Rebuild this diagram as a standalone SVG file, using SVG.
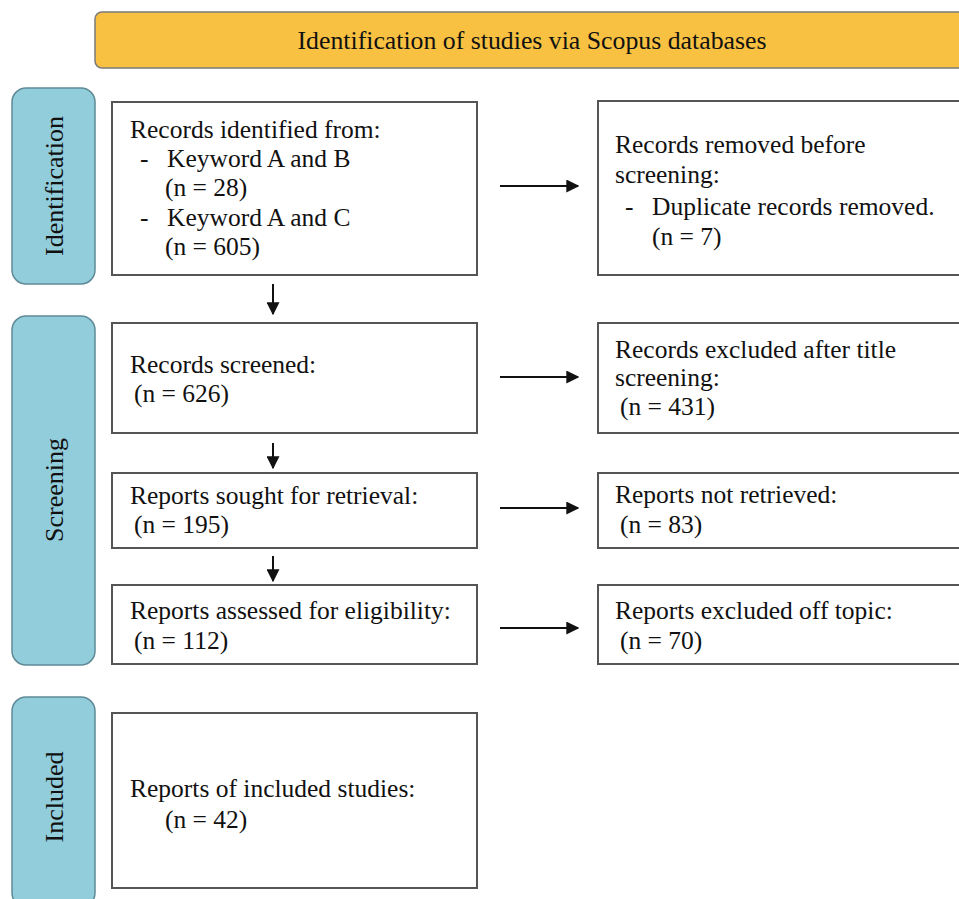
<svg xmlns="http://www.w3.org/2000/svg" width="959" height="899" viewBox="0 0 959 899">
<style>
.box{fill:#fff;stroke:#555;stroke-width:2}
.side{fill:#92CDDC;stroke:#5F8A96;stroke-width:1.5}
.hdr{fill:#F8C142;stroke:#7a7a7a;stroke-width:1.5}
text{font-family:"Liberation Serif","Times New Roman",serif;fill:#111;font-size:25.5px}
.st{font-size:26px;text-anchor:middle}
.ht{font-size:26px;text-anchor:middle}
.conn line{stroke:#111;stroke-width:2}
</style>
<defs>
<marker id="ah" viewBox="0 0 10 10" refX="9" refY="5" markerWidth="6.5" markerHeight="6.5" markerUnits="strokeWidth" orient="auto">
<path d="M0,0 L10,5 L0,10 z" fill="#111"/>
</marker>
</defs>
<rect width="959" height="899" fill="#fff"/>
<g id="header">
<rect class="hdr" x="95" y="12" width="880" height="56" rx="7"/>
<text class="ht" x="532" y="49" textLength="469" lengthAdjust="spacingAndGlyphs">Identification of studies via Scopus databases</text>
</g>
<g id="side-identification">
<rect class="side" x="12" y="88" width="83" height="196" rx="14"/>
<text class="st" transform="translate(63,186) rotate(-90)">Identification</text>
</g>
<g id="side-screening">
<rect class="side" x="12" y="316" width="83" height="349" rx="14"/>
<text class="st" transform="translate(63,490) rotate(-90)">Screening</text>
</g>
<g id="side-included">
<rect class="side" x="12" y="697" width="83" height="210" rx="14"/>
<text class="st" transform="translate(63,797) rotate(-90)">Included</text>
</g>
<g id="records-identified">
<rect class="box" x="112" y="102" width="365" height="173"/>
<text x="130" y="138">Records identified from:</text>
<text x="140" y="167">-</text><text x="167" y="167">Keyword A and B</text>
<text x="165" y="196">(n = 28)</text>
<text x="140" y="226">-</text><text x="167" y="226">Keyword A and C</text>
<text x="165" y="255">(n = 605)</text>
</g>
<g id="records-removed">
<rect class="box" x="598" y="101" width="370" height="174"/>
<text x="615" y="153">Records removed before</text>
<text x="615" y="183">screening:</text>
<text x="625" y="215">-</text><text x="652" y="215">Duplicate records removed.</text>
<text x="652" y="245">(n = 7)</text>
</g>
<g id="records-screened">
<rect class="box" x="112" y="323" width="365" height="110"/>
<text x="130" y="373">Records screened:</text>
<text x="134" y="402">(n = 626)</text>
</g>
<g id="records-excluded">
<rect class="box" x="598" y="323" width="370" height="110"/>
<text x="615" y="358">Records excluded after title</text>
<text x="615" y="386">screening:</text>
<text x="620" y="415">(n = 431)</text>
</g>
<g id="reports-sought">
<rect class="box" x="112" y="473" width="365" height="75"/>
<text x="130" y="504">Reports sought for retrieval:</text>
<text x="134" y="533">(n = 195)</text>
</g>
<g id="reports-not-retrieved">
<rect class="box" x="598" y="473" width="370" height="75"/>
<text x="615" y="503">Reports not retrieved:</text>
<text x="620" y="533">(n = 83)</text>
</g>
<g id="reports-assessed">
<rect class="box" x="112" y="585" width="365" height="79"/>
<text x="130" y="619">Reports assessed for eligibility:</text>
<text x="134" y="649">(n = 112)</text>
</g>
<g id="reports-excluded">
<rect class="box" x="598" y="585" width="370" height="79"/>
<text x="615" y="619">Reports excluded off topic:</text>
<text x="620" y="649">(n = 70)</text>
</g>
<g id="included-studies">
<rect class="box" x="112" y="713" width="365" height="175"/>
<text x="130" y="797">Reports of included studies:</text>
<text x="165" y="828">(n = 42)</text>
</g>
<g class="conn" id="connectors">
<line x1="500" y1="186" x2="578" y2="186" marker-end="url(#ah)"/>
<line x1="500" y1="377" x2="578" y2="377" marker-end="url(#ah)"/>
<line x1="500" y1="508" x2="578" y2="508" marker-end="url(#ah)"/>
<line x1="500" y1="628" x2="578" y2="628" marker-end="url(#ah)"/>
<line x1="273" y1="284" x2="273" y2="314" marker-end="url(#ah)"/>
<line x1="273" y1="443" x2="273" y2="468" marker-end="url(#ah)"/>
<line x1="273" y1="556" x2="273" y2="581" marker-end="url(#ah)"/>
</g>
</svg>
